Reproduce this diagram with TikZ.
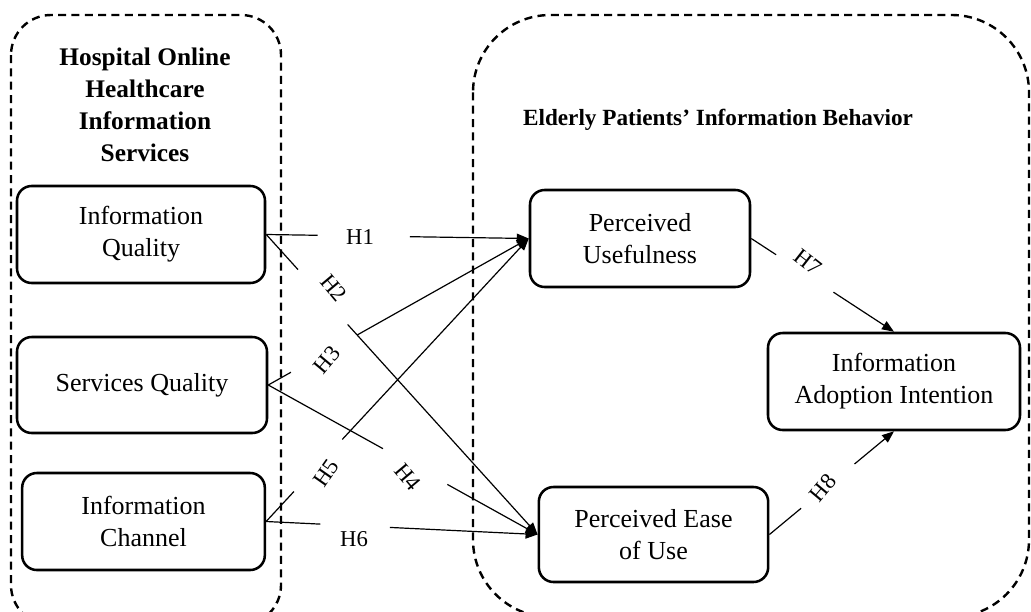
\documentclass[tikz,border=0pt]{standalone}
\usepackage{fontspec}
\setmainfont{Liberation Serif}
\usetikzlibrary{arrows.meta}
\newcommand\gapconn[4]{%
  \path (#1) -- (#2) coordinate[pos=#3] (ga) coordinate[pos=#4] (gb);
  \draw[conn] (#1) -- (ga);
  \draw[arr] (gb) -- (#2);}
\begin{document}
\begin{tikzpicture}[x=0.75pt,y=-0.75pt,
  box/.style={draw, line width=1.9pt, rounded corners=11pt, align=center,
    font=\fontsize{19.5}{24}\selectfont, inner sep=0pt},
  grp/.style={draw, line width=1.8pt, dash pattern=on 6pt off 4pt},
  conn/.style={line width=0.9pt},
  arr/.style={conn, -{Triangle[length=9pt,width=7pt]}},
  hl/.style={font=\fontsize{17}{20}\selectfont, inner sep=0pt},
  ttl/.style={font=\bfseries\fontsize{19}{24}\selectfont, align=center}]
\clip (0,0) rectangle (1031,611);
% group containers
\draw[grp, rounded corners=30pt] (11,15) rectangle (281,625);
\draw[grp, rounded corners=58pt] (473,15) rectangle (1029,617);
\node[ttl] (t1) at (145,104.5) {Hospital Online\\Healthcare\\Information\\Services};
\node[ttl, font=\bfseries\fontsize{17.4}{22}\selectfont] (t2) at (718,120) {Elderly Patients’ Information Behavior};
% boxes
\node[box, minimum width=186pt, minimum height=72.75pt] (iq) at (141,234.5) {Information\\Quality};
\node[box, minimum width=187.5pt, minimum height=72pt] (sq) at (142,385) {Services Quality};
\node[box, minimum width=182pt, minimum height=72.75pt] (ic) at (143.5,521.5) {Information\\Channel};
\node[box, minimum width=165pt, minimum height=72.75pt] (pu) at (640,238.5) {Perceived\\Usefulness};
\node[box, minimum width=172pt, minimum height=71.25pt] (peu) at (653.5,534.5) {Perceived Ease\\of Use};
\node[box, minimum width=189pt, minimum height=72.75pt] (ait) at (894,381.5) {Information\\Adoption Intention};
% connectors
\gapconn{iq.east}{pu.west}{0.196}{0.547}
\gapconn{iq.east}{peu.west}{0.117}{0.30}
\gapconn{sq.east}{pu.west}{0.087}{0.342}
\gapconn{sq.east}{peu.west}{0.426}{0.665}
\gapconn{ic.east}{pu.west}{0.106}{0.29}
\gapconn{ic.east}{peu.west}{0.2}{0.456}
\gapconn{pu.east}{ait.north}{0.174}{0.576}
\gapconn{peu.east}{ait.south}{0.254}{0.683}
% labels
\node[hl] (l1) at (360,237) {H1};
\node[hl, rotate=-50] (l2) at (334,288) {H2};
\node[hl, rotate=50] (l3) at (327,360) {H3};
\node[hl, rotate=-50] (l4) at (408,477) {H4};
\node[hl, rotate=55] (l5) at (326,473) {H5};
\node[hl] (l6) at (354,539) {H6};
\node[hl, rotate=-38] (l7) at (808,262) {H7};
\node[hl, rotate=50] (l8) at (823,488) {H8};
\end{tikzpicture}
\end{document}
